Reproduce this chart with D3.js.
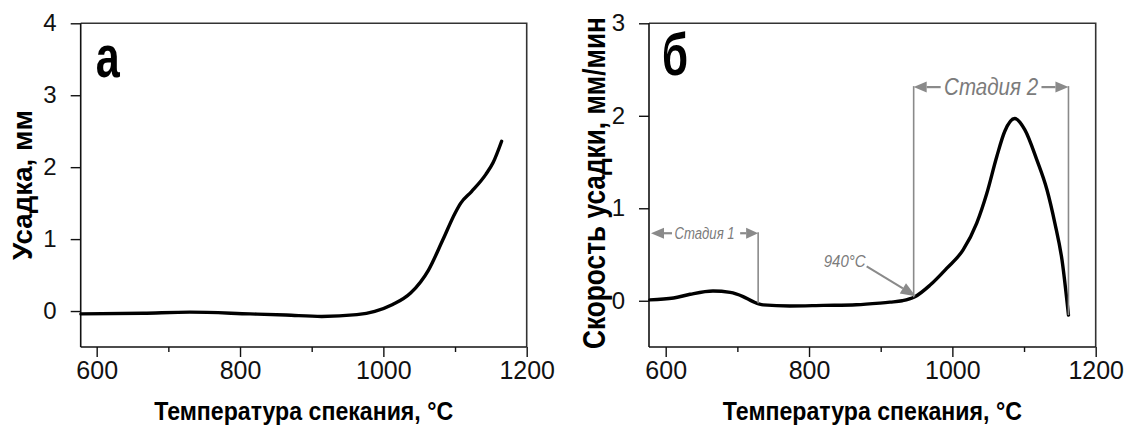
<!DOCTYPE html>
<html>
<head>
<meta charset="utf-8">
<script src="https://cdn.jsdelivr.net/npm/d3@7"></script>
<style>
  html, body { margin: 0; padding: 0; background: #fff; }
  svg { display: block; }
  text { font-family: "Liberation Sans Narrow", "Arial Narrow", "Liberation Sans", Arial, sans-serif; }
</style>
</head>
<body>
<svg id="chart" width="1124" height="425"></svg>
<script>
// ---- data -------------------------------------------------------------
// (а) shrinkage, mm vs sintering temperature, °C
const tempA   = [578, 665, 730, 814, 864, 914, 963, 988, 1013, 1038, 1063, 1083, 1100, 1108, 1123, 1143, 1153, 1165];
const shrinkA = [-0.04, -0.03, -0.015, -0.04, -0.056, -0.075, -0.05, -0.005, 0.09, 0.25, 0.57, 0.99, 1.36, 1.50, 1.66, 1.90, 2.06, 2.36];

// (б) shrinkage rate, mm/min vs sintering temperature, °C
const tempB = [578, 611, 634, 666, 690, 708, 722, 736, 773, 820, 866, 899, 913, 930, 947, 969, 992, 1015, 1034, 1048, 1062, 1073, 1087, 1101, 1118, 1132, 1143, 1153, 1162];
const rateB = [0.01, 0.03, 0.07, 0.105, 0.09, 0.045, -0.01, -0.045, -0.057, -0.05, -0.043, -0.025, -0.015, 0.0, 0.04, 0.17, 0.35, 0.55, 0.84, 1.16, 1.56, 1.83, 1.97, 1.85, 1.52, 1.20, 0.84, 0.44, -0.155];

// axis ticks
const xTicksMajor = [600, 800, 1000, 1200];
const xTicksMinor = [700, 900, 1100];
const yTicksA = [0, 1, 2, 3, 4];
const yTicksB = [0, 1, 2, 3];

// stage markers on panel б (temperatures and arrow heights in data units)
const stage1End = 729, stage1Level = 0.73;
const stage2Start = 946, stage2End = 1162, stage2Level = 2.31;
const onsetLabel = "940°C";

// ---- drawing ----------------------------------------------------------
const svg = d3.select("#chart");
const GRAY = "#8a8a8a", GRAY_TEXT = "#7b7b7b";

function panel(opt) {
  const g = svg.append("g");
  const x = d3.scaleLinear().domain(opt.xDomain).range([opt.left, opt.right]);
  const y = d3.scaleLinear().domain(opt.yDomain).range([opt.bottom, opt.top]);

  // frame: top and right borders
  g.append("path")
    .attr("d", `M${opt.left},${opt.top}H${opt.right}V${opt.bottom}`)
    .attr("fill", "none").attr("stroke", "#333").attr("stroke-width", 1.6);

  // x axis
  const xAxis = d3.axisBottom(x).tickValues(xTicksMajor).tickSize(10).tickPadding(4).tickFormat(d3.format("d"));
  const gx = g.append("g").attr("transform", `translate(0,${opt.bottom})`).call(xAxis);
  gx.select(".domain").attr("d", `M${opt.left},0H${opt.right}`).attr("stroke", "#111").attr("stroke-width", 1.6);
  gx.selectAll(".tick line").attr("stroke", "#111").attr("stroke-width", 1.4);
  gx.selectAll(".tick text").attr("font-size", 25).attr("fill", "#111").attr("dy", "0.72em");
  g.append("g").attr("transform", `translate(0,${opt.bottom})`)
    .call(d3.axisBottom(x).tickValues(xTicksMinor).tickSize(5).tickFormat(""))
    .call(s => { s.select(".domain").remove(); s.selectAll(".tick line").attr("stroke", "#111").attr("stroke-width", 1.4); });

  // y axis
  const yAxis = d3.axisLeft(y).tickValues(opt.yTicks).tickSize(10).tickPadding(14).tickFormat(d3.format("d"));
  const gy = g.append("g").attr("transform", `translate(${opt.left},0)`).call(yAxis);
  gy.select(".domain").attr("d", `M0,${opt.top}V${opt.bottom}`).attr("stroke", "#111").attr("stroke-width", 1.6);
  gy.selectAll(".tick line").attr("stroke", "#111").attr("stroke-width", 1.4);
  gy.selectAll(".tick text").attr("font-size", 24).attr("fill", "#111");

  // axis titles
  g.append("text")
    .attr("x", (opt.left + opt.right) / 2).attr("y", 420)
    .attr("text-anchor", "middle").attr("font-size", 25).attr("font-weight", "bold")
    .attr("textLength", 299).attr("lengthAdjust", "spacingAndGlyphs")
    .text("Температура спекания, °C");

  // rotated y title, squeezed along its run to the wanted length
  const yt = g.append("text")
    .attr("text-anchor", "middle").attr("font-size", opt.yTitleSize).attr("font-weight", "bold")
    .text(opt.yTitle);
  const natural = yt.node().getComputedTextLength();
  const k = Math.min(1, opt.yTitleLen / natural);
  yt.attr("transform", `translate(${opt.yTitleX},${opt.yTitleY}) rotate(-90) scale(${k},1)`);

  // panel letter
  g.append("text")
    .attr("x", opt.left + opt.letterDx).attr("y", opt.letterY)
    .attr("font-size", 60).attr("font-weight", "bold")
    .attr("textLength", opt.letterW).attr("lengthAdjust", "spacingAndGlyphs")
    .text(opt.letter);

  // curve
  const line = d3.line().x(d => x(d[0])).y(d => y(d[1])).curve(d3.curveMonotoneX);
  g.append("path")
    .datum(d3.zip(opt.xs, opt.ys))
    .attr("d", line)
    .attr("fill", "none").attr("stroke", "#000").attr("stroke-width", 3.4)
    .attr("stroke-linejoin", "round").attr("stroke-linecap", "round");

  return { g, x, y };
}

// horizontal arrow with filled triangular head, tip at (tx, ty)
function hArrow(g, tx, ty, dir, shaft, headLen, headHalf) {
  const base = tx - dir * headLen;
  g.append("line")
    .attr("x1", base).attr("y1", ty).attr("x2", base - dir * shaft).attr("y2", ty)
    .attr("stroke", GRAY).attr("stroke-width", 2.2);
  g.append("path")
    .attr("d", `M${tx},${ty}L${base},${ty - headHalf}L${base},${ty + headHalf}Z`)
    .attr("fill", GRAY);
}

// ---- panel а ----
panel({
  xDomain: [577.7, 1200], yDomain: [-0.5, 4],
  left: 80.7, right: 526.7, top: 23.3, bottom: 347,
  yTicks: yTicksA,
  yTitle: "Усадка, мм", yTitleX: 32, yTitleY: 185, yTitleSize: 28, yTitleLen: 150,
  letter: "а", letterDx: 15, letterY: 77, letterW: 24,
  xs: tempA, ys: shrinkA
});

// ---- panel б ----
const pb = panel({
  xDomain: [576.7, 1200], yDomain: [-0.5, 3],
  left: 649, right: 1095.7, top: 23.3, bottom: 347,
  yTicks: yTicksB,
  yTitle: "Скорость усадки, мм/мин", yTitleX: 605, yTitleY: 183, yTitleSize: 31, yTitleLen: 332,
  letter: "б", letterDx: 13, letterY: 75, letterW: 26,
  xs: tempB, ys: rateB
});

const { g: gb, x: xb, y: yb } = pb;
const curveAt = t => d3.scaleLinear().domain(tempB).range(rateB)(t);

// Stage 1
{
  const yL = yb(stage1Level), xR = xb(stage1End), xL = xb(xb.domain()[0]) + 2;
  gb.append("line").attr("x1", xR).attr("x2", xR).attr("y1", yL - 1).attr("y2", yb(curveAt(stage1End)))
    .attr("stroke", GRAY).attr("stroke-width", 1.6);
  hArrow(gb, xL, yL, -1, 8, 13, 5.5);
  hArrow(gb, xR, yL, 1, 6, 12, 5.5);
  gb.append("text").attr("x", (xL + xR) / 2).attr("y", yL + 5.5)
    .attr("text-anchor", "middle").attr("font-size", 16).attr("font-style", "italic")
    .attr("fill", GRAY_TEXT).attr("textLength", 60).attr("lengthAdjust", "spacingAndGlyphs")
    .text("Стадия 1");
}

// Stage 2
{
  const yL = yb(stage2Level), x1 = xb(stage2Start), x2 = xb(stage2End);
  gb.append("line").attr("x1", x1).attr("x2", x1).attr("y1", yL - 1).attr("y2", yb(curveAt(stage2Start)))
    .attr("stroke", GRAY).attr("stroke-width", 1.6);
  gb.append("line").attr("x1", x2).attr("x2", x2).attr("y1", yL - 1).attr("y2", yb(curveAt(stage2End)))
    .attr("stroke", GRAY).attr("stroke-width", 1.6);
  hArrow(gb, x1, yL, -1, 14, 13, 5.5);
  hArrow(gb, x2, yL, 1, 14, 13, 5.5);
  gb.append("text").attr("x", (x1 + x2) / 2).attr("y", yL + 8)
    .attr("text-anchor", "middle").attr("font-size", 23).attr("font-style", "italic")
    .attr("fill", GRAY_TEXT).attr("textLength", 94).attr("lengthAdjust", "spacingAndGlyphs")
    .text("Стадия 2");
}

// onset temperature label with pointer
{
  const tipX = xb(stage2Start) + 2, tipY = yb(curveAt(stage2Start)) - 1;
  const sx = tipX - 49, sy = tipY - 30;
  gb.append("text").attr("x", sx - 1).attr("y", sy + 1)
    .attr("text-anchor", "end").attr("font-size", 17).attr("font-style", "italic")
    .attr("fill", GRAY_TEXT).attr("textLength", 42).attr("lengthAdjust", "spacingAndGlyphs")
    .text(onsetLabel);
  const ang = Math.atan2(tipY - sy, tipX - sx);
  const hl = 15, hw = 6;
  const bx = tipX - hl * Math.cos(ang), by = tipY - hl * Math.sin(ang);
  gb.append("line").attr("x1", sx).attr("y1", sy).attr("x2", bx).attr("y2", by)
    .attr("stroke", GRAY).attr("stroke-width", 2);
  gb.append("path")
    .attr("d", `M${tipX},${tipY}L${bx + hw * Math.sin(ang)},${by - hw * Math.cos(ang)}L${bx - hw * Math.sin(ang)},${by + hw * Math.cos(ang)}Z`)
    .attr("fill", GRAY);
}
</script>
</body>
</html>
